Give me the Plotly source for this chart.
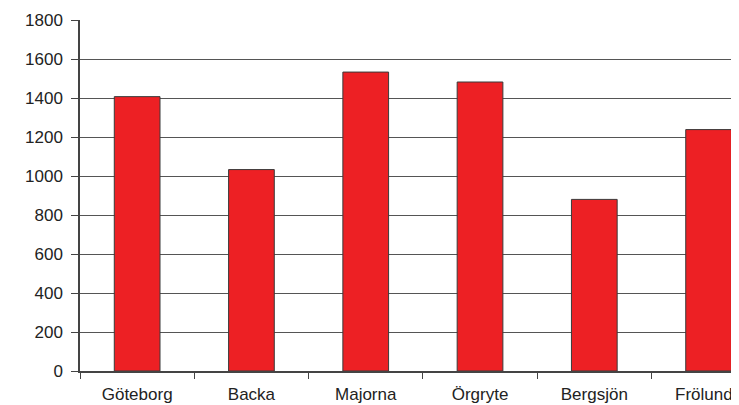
import plotly.graph_objects as go

categories = ["Göteborg", "Backa", "Majorna", "Örgryte", "Bergsjön", "Frölunda"]
values = [1407, 1033, 1533, 1482, 880, 1238]
y_ticks = [0, 200, 400, 600, 800, 1000, 1200, 1400, 1600, 1800]

fig = go.Figure(go.Bar(
    x=categories, y=values, width=0.4,
    marker=dict(color="#ED2024", line=dict(color="#3a3a3a", width=1)),
))

font = dict(family="Liberation Sans, Arial, sans-serif", size=17, color="#222222")

# page body has an 8px margin: size the figure so it fits the window without scrollbars
fig.update_layout(
    width=731, height=397,
    margin=dict(l=72, r=0, t=12, b=34, pad=0),
    paper_bgcolor="white", plot_bgcolor="white",
    showlegend=False, font=font, bargap=0.6,
)
fig.update_xaxes(
    type="category", range=[-0.5, 5.266], automargin=False,
    showline=True, linecolor="#444444", linewidth=1.5,
    ticks="outside", tickson="boundaries", ticklen=6, tickcolor="#444444", tickwidth=1,
    showgrid=False, tickfont=font, ticklabelstandoff=7, ticklabeloverflow="allow",
)
fig.update_yaxes(
    range=[0, 1800], automargin=False, tickvals=y_ticks,
    showline=True, linecolor="#444444", linewidth=1.5,
    ticks="outside", ticklen=7, tickcolor="#444444", tickwidth=1,
    showgrid=True, gridcolor="#555555", gridwidth=1, zeroline=False,
    tickfont=font, ticklabelstandoff=5,
)

fig.write_html("out.html")
